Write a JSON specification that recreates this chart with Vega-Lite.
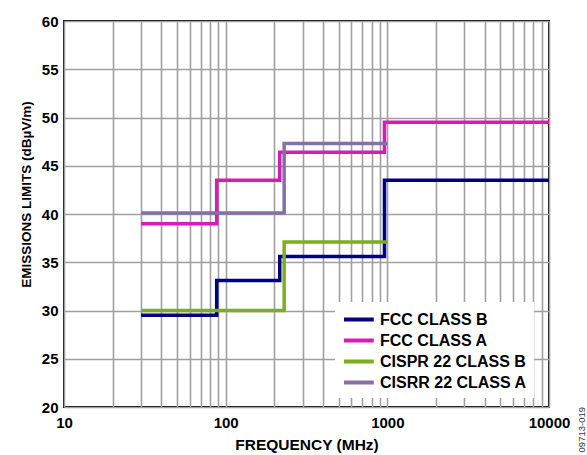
{
  "$schema": "https://vega.github.io/schema/vega-lite/v6.json",
  "width": 485,
  "height": 386,
  "autosize": {"type": "none"},
  "padding": {"left": 64, "top": 21, "right": 38, "bottom": 48},
  "background": "white",
  "title": {
    "text": "09713-019",
    "orient": "right",
    "anchor": "end",
    "frame": "group",
    "angle": -90,
    "fontSize": 9.5,
    "fontWeight": "normal",
    "font": "Liberation Sans",
    "color": "#333333",
    "offset": -2
  },
  "config": {
    "view": {"stroke": "black", "strokeWidth": 2},
    "font": "Liberation Sans",
    "axis": {
      "domain": false,
      "ticks": false,
      "gridColor": "#a0a0a0",
      "gridWidth": 1.6,
      "gridOpacity": 1,
      "labelFont": "Liberation Sans",
      "labelFontWeight": "bold",
      "labelFontSize": 15,
      "labelColor": "black",
      "titleFont": "Liberation Sans",
      "titleFontWeight": "bold",
      "titleColor": "black"
    },
    "legend": {
      "orient": "none",
      "legendX": 271,
      "legendY": 281,
      "fillColor": "white",
      "padding": 7,
      "title": null,
      "labelFont": "Liberation Sans",
      "labelFontWeight": "bold",
      "labelFontSize": 16,
      "labelColor": "black",
      "labelLimit": 300,
      "labelOffset": 17,
      "rowPadding": 2,
      "symbolType": "M-1,0H2.5",
      "symbolSize": 289,
      "symbolStrokeWidth": 4
    }
  },
  "data": {
    "values": [
      {"series": "FCC CLASS B", "freq": 30, "limit": 29.5},
      {"series": "FCC CLASS B", "freq": 88, "limit": 33.1},
      {"series": "FCC CLASS B", "freq": 216, "limit": 35.6},
      {"series": "FCC CLASS B", "freq": 960, "limit": 43.5},
      {"series": "FCC CLASS B", "freq": 10000, "limit": 43.5},
      {"series": "FCC CLASS A", "freq": 30, "limit": 39},
      {"series": "FCC CLASS A", "freq": 88, "limit": 43.5},
      {"series": "FCC CLASS A", "freq": 216, "limit": 46.4},
      {"series": "FCC CLASS A", "freq": 960, "limit": 49.5},
      {"series": "FCC CLASS A", "freq": 10000, "limit": 49.5},
      {"series": "CISPR 22 CLASS B", "freq": 30, "limit": 30},
      {"series": "CISPR 22 CLASS B", "freq": 230, "limit": 37.1},
      {"series": "CISPR 22 CLASS B", "freq": 1000, "limit": 37.1},
      {"series": "CISRR 22 CLASS A", "freq": 30, "limit": 40.1},
      {"series": "CISRR 22 CLASS A", "freq": 230, "limit": 47.3},
      {"series": "CISRR 22 CLASS A", "freq": 1000, "limit": 47.3}
    ]
  },
  "mark": {"type": "line", "interpolate": "step-after", "strokeWidth": 3.5, "clip": true},
  "encoding": {
    "x": {
      "field": "freq",
      "type": "quantitative",
      "scale": {"type": "log", "domain": [10, 10000], "nice": false},
      "axis": {
        "title": "FREQUENCY (MHz)",
        "titleFontSize": 15.5,
        "titlePadding": 7,
        "labelPadding": 8,
        "format": "d",
        "values": [10, 20, 30, 40, 50, 60, 70, 80, 90, 100, 200, 300, 400, 500, 600, 700, 800, 900, 1000, 2000, 3000, 4000, 5000, 6000, 7000, 8000, 9000, 10000],
        "labelExpr": "(datum.value == 10 || datum.value == 100 || datum.value == 1000 || datum.value == 10000) ? datum.label : ''",
        "labelOverlap": false,
        "labelFlush": false
      }
    },
    "y": {
      "field": "limit",
      "type": "quantitative",
      "scale": {"domain": [20, 60], "nice": false, "zero": false},
      "axis": {
        "title": "EMISSIONS LIMITS (dBµV/m)",
        "titleFontSize": 13.5,
        "titleY": 173,
        "titlePadding": 8,
        "labelPadding": 6,
        "values": [20, 25, 30, 35, 40, 45, 50, 55, 60]
      }
    },
    "color": {
      "field": "series",
      "type": "nominal",
      "scale": {
        "domain": ["FCC CLASS B", "FCC CLASS A", "CISPR 22 CLASS B", "CISRR 22 CLASS A"],
        "range": ["#000080", "#d61cb4", "#7dae1c", "#8470a4"]
      }
    }
  }
}
